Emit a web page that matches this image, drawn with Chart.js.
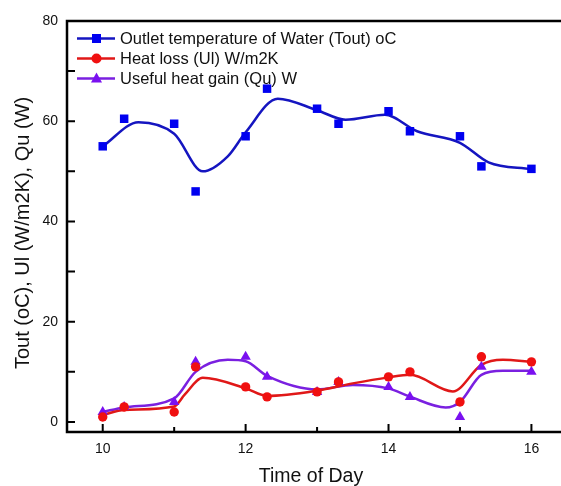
<!DOCTYPE html>
<html>
<head>
<meta charset="utf-8">
<script src="https://cdn.jsdelivr.net/npm/chart.js@4"></script>
<style>
  html, body { margin:0; padding:0; background:#fff; }
  #wrap { width:561px; height:486px; }
</style>
</head>
<body>
<div id="wrap"><canvas id="heatChart" width="561" height="486"></canvas></div>
<script>
// measured points
const timeOfDay = [10, 10.3, 11, 11.3, 12, 12.3, 13, 13.3, 14, 14.3, 15, 15.3, 16];
const toutPoints = [55, 60.5, 59.5, 46, 57, 66.5, 62.5, 59.5, 62, 58, 57, 51, 50.5];
const ulPoints = [1, 3, 2, 11, 7, 5, 6, 8, 9, 10, 4, 13, 12];
const quPoints = [2, 3, 4, 12, 13, 9, 6, 8, 7, 5, 1, 11, 10];

// fitted curves
const toutCurveX = [10, 10.5, 11, 11.4, 11.75, 12, 12.45, 13, 13.4, 13.95, 14.4, 15, 15.4, 16];
const toutCurveY = [55, 59.8, 57.5, 50.0, 53, 57.8, 64.5, 62.2, 60.3, 61.3, 58.0, 55.7, 51.8, 50.4];
const ulCurveX = [10, 10.3, 11, 11.15, 11.4, 12, 12.3, 13, 13.5, 14, 14.3, 14.9, 15.3, 15.6, 16];
const ulCurveY = [1.4, 2.4, 3.1, 5.5, 8.8, 6.7, 5.2, 6.25, 7.7, 8.9, 9.4, 6.1, 11.4, 12.4, 12];
const quCurveX = [10, 10.3, 11, 11.3, 11.75, 12, 12.3, 13, 13.5, 14, 14.3, 14.8, 15, 15.3, 15.6, 16];
const quCurveY = [2, 2.9, 4.7, 10, 12.4, 12.1, 9.2, 6.5, 7.4, 6.7, 5.05, 2.9, 4, 9.4, 10.2, 10.2];

const xTicks = [10, 11, 12, 13, 14, 15, 16];
const yTicks = [0, 10, 20, 30, 40, 50, 60, 70, 80];

const seriesNames = ["Outlet temperature of Water (Tout) oC", "Heat loss (Ul) W/m2K", "Useful heat gain (Qu) W"];
const yTitle = "Tout (oC), Ul (W/m2K), Qu (W)";
const markColors = ["#0000f0", "#f01010", "#7a10f0"];
const lineColors = ["#1515c0", "#e01818", "#7a20e0"];
const markShapes = ["rect", "circle", "triangle"];
const markSizes = [6, 4.7, 6];

const FONT = "'Liberation Sans', Arial, sans-serif";
const pts = (xs, ys) => xs.map((x, i) => ({ x: x, y: ys[i] }));

function curveSet(xs, ys, i){
    return {
        label: seriesNames[i] + " fit",
        data: pts(xs, ys),
        showLine: true,
        borderColor: lineColors[i],
        borderWidth: 2.5,
        pointRadius: 0,
        cubicInterpolationMode: "monotone",
        fill: false,
        order: 2
    };
}
function pointSet(ys, i){
    return {
        label: seriesNames[i],
        data: pts(timeOfDay, ys),
        showLine: false,
        pointStyle: markShapes[i],
        pointRadius: markSizes[i],
        pointBackgroundColor: markColors[i],
        pointBorderColor: markColors[i],
        pointBorderWidth: 0,
        order: 1
    };
}

// frame, inward ticks, y title and legend
const frameAndLegend = {
    id: "frameAndLegend",
    afterDraw(chart){
        const c = chart.ctx, a = chart.chartArea;
        const xs = chart.scales.x, ys = chart.scales.y;
        c.save();
        c.strokeStyle = "#000";
        c.lineWidth = 2.5;
        c.beginPath();
        c.moveTo(chart.width, a.top); c.lineTo(a.left, a.top);
        c.lineTo(a.left, a.bottom); c.lineTo(chart.width, a.bottom);
        c.stroke();
        c.lineWidth = 2;
        c.beginPath();
        xTicks.forEach(v => {
            const p = xs.getPixelForValue(v);
            const len = v % 2 === 0 ? 8 : 5;
            c.moveTo(p, a.bottom); c.lineTo(p, a.bottom - len);
        });
        yTicks.forEach(v => {
            const p = ys.getPixelForValue(v);
            c.moveTo(a.left, p); c.lineTo(a.left + 8, p);
        });
        c.stroke();

        // y axis title
        c.save();
        c.translate(23, 233);
        c.rotate(-Math.PI / 2);
        c.font = "20px " + FONT;
        c.fillStyle = "#111";
        c.textAlign = "center";
        c.textBaseline = "middle";
        c.fillText(yTitle, 0, 0);
        c.restore();

        c.font = "16.5px " + FONT;
        c.textBaseline = "middle";
        seriesNames.forEach((name, i) => {
            const y = 38.5 + i * 20;
            c.strokeStyle = lineColors[i];
            c.lineWidth = 2.5;
            c.beginPath(); c.moveTo(77, y); c.lineTo(115, y); c.stroke();
            c.fillStyle = markColors[i];
            c.beginPath();
            if (i === 0) c.rect(92, y - 4.5, 9, 9);
            else if (i === 1) c.arc(96.5, y, 5, 0, Math.PI * 2);
            else { c.moveTo(96.5, y - 6); c.lineTo(102, y + 4); c.lineTo(91, y + 4); c.closePath(); }
            c.fill();
            c.fillStyle = "#111";
            c.fillText(name, 120, y + 1);
        });
        c.restore();
    }
};

new Chart(document.getElementById("heatChart"), {
    type: "scatter",
    data: {
        datasets: [
            pointSet(toutPoints, 0), pointSet(ulPoints, 1), pointSet(quPoints, 2),
            curveSet(toutCurveX, toutCurveY, 0), curveSet(ulCurveX, ulCurveY, 1), curveSet(quCurveX, quCurveY, 2)
        ]
    },
    options: {
        responsive: false,
        animation: false,
        layout: { padding: { top: 21, right: 0, left: 0, bottom: 0 } },
        plugins: { legend: { display: false }, tooltip: { enabled: false } },
        scales: {
            x: {
                type: "linear", min: 9.5, max: 16.33,
                afterBuildTicks: s => { s.ticks = xTicks.map(v => ({ value: v })); },
                afterFit: s => { s.height = 54; },
                grid: { display: false, drawTicks: false },
                border: { display: false },
                ticks: {
                    padding: 9, color: "#111",
                    font: { size: 14, family: FONT },
                    callback: v => v % 2 === 0 ? v : ""
                },
                title: {
                    display: true, text: "Time of Day", color: "#111",
                    font: { size: 19.5, family: FONT, lineHeight: 1 },
                    padding: { top: 0, bottom: 0 }
                }
            },
            y: {
                type: "linear", min: -2, max: 80,
                afterBuildTicks: s => { s.ticks = yTicks.map(v => ({ value: v })); },
                afterFit: s => { s.width = 67; },
                grid: { display: false, drawTicks: false },
                border: { display: false },
                ticks: {
                    padding: 9, color: "#111",
                    font: { size: 14, family: FONT },
                    callback: v => v % 20 === 0 ? v : ""
                },
                title: { display: false }
            }
        }
    },
    plugins: [frameAndLegend]
});
</script>
</body>
</html>
